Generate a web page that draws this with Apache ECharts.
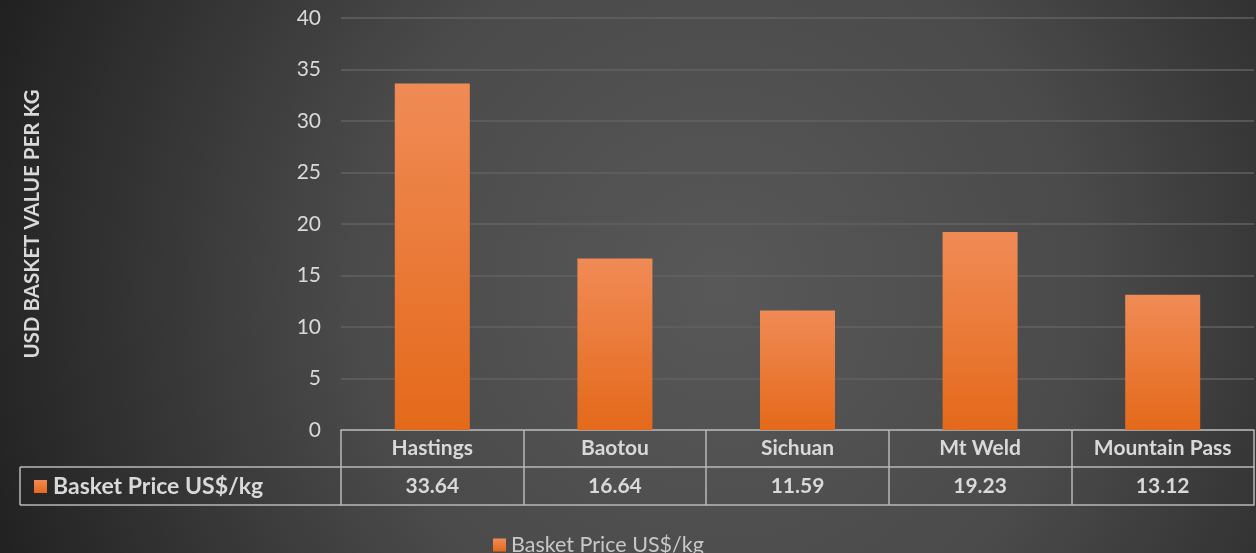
<!DOCTYPE html>
<html><head><meta charset="utf-8">
<script src="https://cdn.jsdelivr.net/npm/echarts@6/dist/echarts.min.js"></script>
<style>html,body{margin:0;padding:0;background:#333}#c{width:1256px;height:553px}</style>
</head><body><div id="c"></div>
<script>
const categories = ['Hastings', 'Baotou', 'Sichuan', 'Mt Weld', 'Mountain Pass'];
const values = [33.64, 16.64, 11.59, 19.23, 13.12];
const seriesName = 'Basket Price US$/kg';
const yTitle = 'USD BASKET VALUE PER KG';

const FONT = 'Lato';
const TXT = '#d9d9d9';
const LINE = '#b8b8b8';
const chart = echarts.init(document.getElementById('c'), null, {renderer: 'canvas'});
const barColor = {type: 'linear', x: 0, y: 0, x2: 0, y2: 1, colorStops: [
  {offset: 0, color: '#f08b56'}, {offset: 1, color: '#e4691a'}]};
const option = {
  backgroundColor: {type: 'radial', x: 720, y: 290, r: 820, global: true, colorStops: [
    {offset: 0, color: '#585858'}, {offset: 0.45, color: '#4a4a4a'}, {offset: 1, color: '#1c1c1c'}]},
  textStyle: {fontFamily: FONT},
  grid: {left: 341, right: 2, top: 18, bottom: 123},
  legend: {left: 488, top: 529, icon: 'rect', itemWidth: 13, itemHeight: 13, itemGap: 6,
    textStyle: {color: '#c8c8c8', fontSize: 21.5, fontFamily: FONT}, data: [seriesName]},
  xAxis: [
    {type: 'category', data: categories, position: 'bottom',
      axisLine: {show: true, lineStyle: {color: LINE, width: 1.5}},
      axisTick: {show: true, length: 75, lineStyle: {color: LINE, width: 1.5}},
      axisLabel: {color: TXT, fontSize: 21, fontWeight: 'bold', margin: 8, fontFamily: FONT}},
    {type: 'category', data: categories, position: 'bottom', offset: 37,
      axisLine: {show: true, lineStyle: {color: LINE, width: 1.5}},
      axisTick: {show: false},
      axisLabel: {color: TXT, fontSize: 21, fontWeight: 'bold', margin: 9, fontFamily: FONT,
        formatter: (v, i) => values[i].toFixed(2)}},
    {type: 'category', data: categories, position: 'bottom', offset: 75,
      axisLine: {show: true, lineStyle: {color: LINE, width: 1.5}},
      axisTick: {show: false}, axisLabel: {show: false}}
  ],
  yAxis: {type: 'value', min: 0, max: 40, interval: 5,
    name: yTitle, nameLocation: 'middle', nameGap: 298, nameRotate: 90,
    nameTextStyle: {color: TXT, fontSize: 20.5, fontWeight: 'bold', fontFamily: FONT},
    axisLine: {show: false}, axisTick: {show: false},
    axisLabel: {color: TXT, fontSize: 21, margin: 20, fontFamily: FONT},
    splitLine: {lineStyle: {color: '#626262', width: 1.5}}},
  series: [{name: seriesName, type: 'bar', data: values, barWidth: 75, xAxisIndex: 0,
    itemStyle: {color: barColor, shadowColor: 'rgba(0,0,0,0.45)', shadowBlur: 8, shadowOffsetX: 2, shadowOffsetY: 1}}],
  graphic: [
    {type: 'line', shape: {x1: 20, y1: 467, x2: 341, y2: 467}, style: {stroke: LINE, lineWidth: 1.5}},
    {type: 'line', shape: {x1: 20, y1: 505, x2: 341, y2: 505}, style: {stroke: LINE, lineWidth: 1.5}},
    {type: 'line', shape: {x1: 20, y1: 467, x2: 20, y2: 505}, style: {stroke: LINE, lineWidth: 1.5}},
    {type: 'rect', shape: {x: 34, y: 480, width: 13, height: 13}, style: {fill: barColor}},
    {type: 'text', x: 53, y: 487, style: {text: seriesName, fill: TXT, font: 'bold 23px ' + FONT, textVerticalAlign: 'middle'}}
  ]
};
chart.setOption(option);
</script></body></html>
